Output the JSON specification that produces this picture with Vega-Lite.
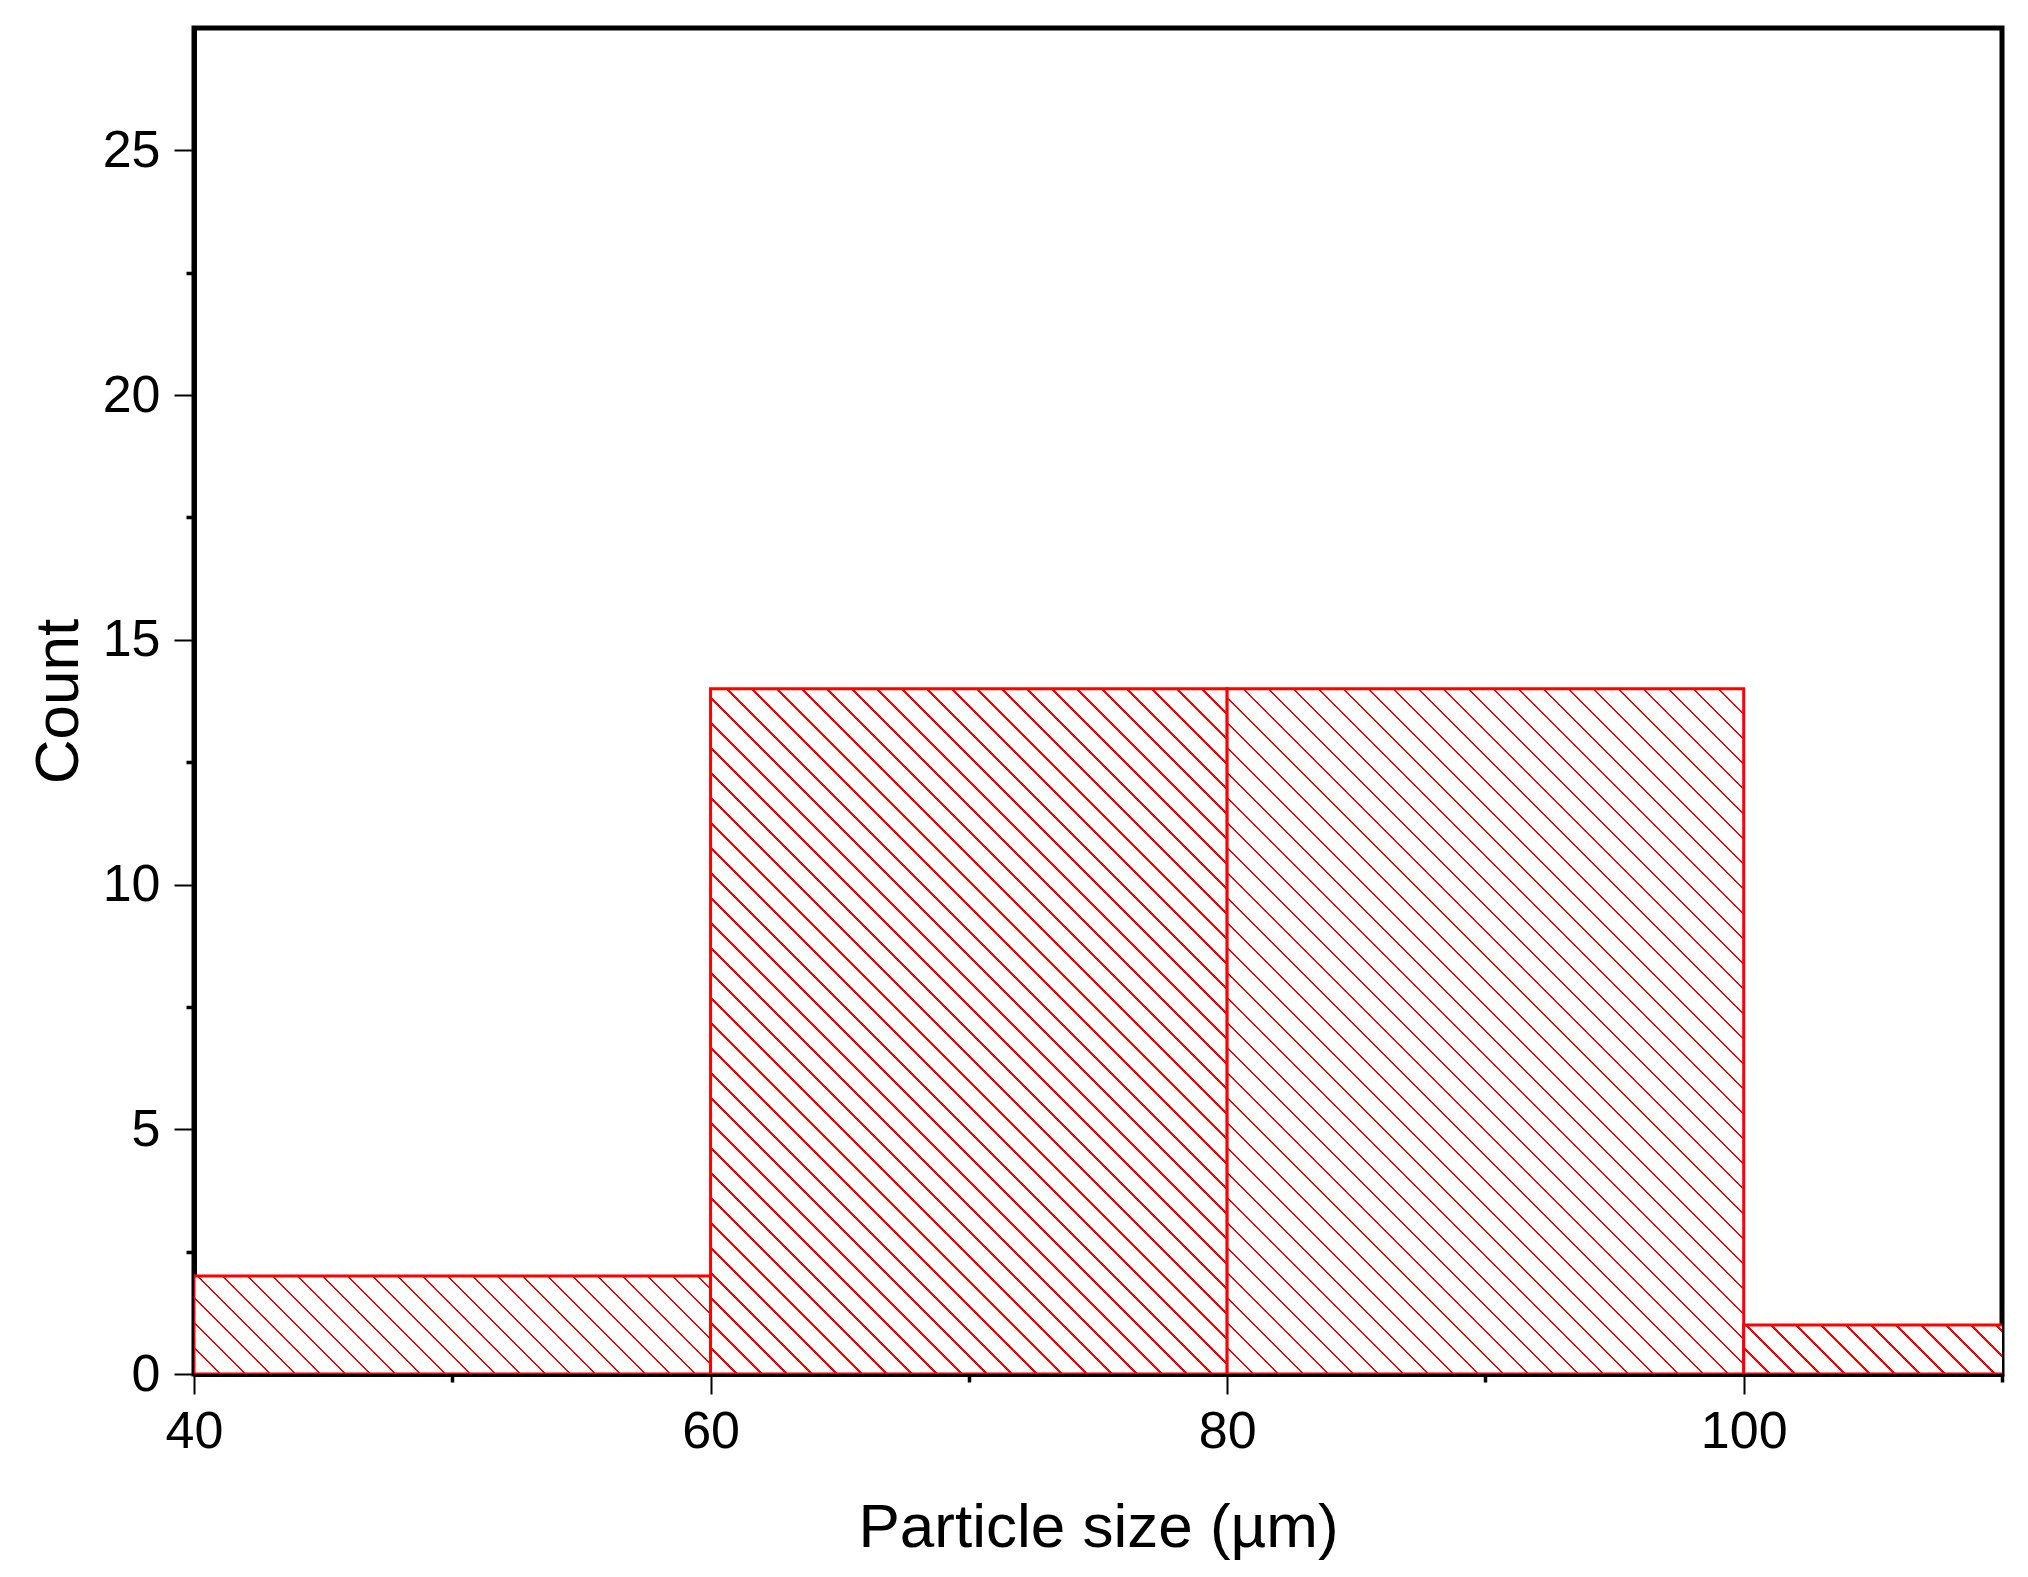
{
  "$schema": "https://vega.github.io/schema/vega-lite/v6.json",
  "width": 1808,
  "height": 1346,
  "autosize": {"type": "none"},
  "padding": {"left": 194, "top": 28, "right": 26, "bottom": 203},
  "background": "white",
  "config": {
    "view": {"stroke": "black", "strokeWidth": 5},
    "axis": {
      "labelFont": "Liberation Sans",
      "titleFont": "Liberation Sans",
      "labelColor": "black",
      "titleColor": "black",
      "titleFontWeight": "normal",
      "labelFontSize": 52,
      "titleFontSize": 62,
      "domainColor": "black",
      "domainWidth": 5,
      "tickColor": "black",
      "grid": false,
      "zindex": 1
    }
  },
  "data": {
    "values": [
      {"bin_start": 40, "bin_end": 60, "count": 2},
      {"bin_start": 60, "bin_end": 80, "count": 14},
      {"bin_start": 80, "bin_end": 100, "count": 14},
      {"bin_start": 100, "bin_end": 120, "count": 1}
    ]
  },
  "mark": {"type": "rect", "stroke": "red", "strokeWidth": 3, "clip": true},
  "encoding": {
    "x": {
      "field": "bin_start",
      "type": "quantitative",
      "scale": {"domain": [40, 110], "nice": false, "zero": false},
      "axis": {
        "title": "Particle size (µm)",
        "values": [40, 50, 60, 70, 80, 90, 100, 110],
        "labelExpr": "datum.value % 20 === 0 ? datum.label : ''",
        "tickSize": {"condition": {"test": "datum.value % 20 !== 0", "value": 8}, "value": 20},
        "tickWidth": {"condition": {"test": "datum.value % 20 !== 0", "value": 3.5}, "value": 2},
        "labelPadding": 12,
        "titlePadding": 40,
        "labelFlush": false
      }
    },
    "x2": {"field": "bin_end"},
    "y": {
      "field": "count",
      "type": "quantitative",
      "scale": {"domain": [0, 27.5], "nice": false},
      "axis": {
        "title": "Count",
        "values": [0, 2.5, 5, 7.5, 10, 12.5, 15, 17.5, 20, 22.5, 25],
        "labelExpr": "datum.value % 5 === 0 ? datum.label : ''",
        "tickSize": {"condition": {"test": "datum.value % 5 !== 0", "value": 8}, "value": 20},
        "tickWidth": {"condition": {"test": "datum.value % 5 !== 0", "value": 3.5}, "value": 2},
        "labelPadding": 14,
        "titlePadding": 12,
        "labelFlush": false
      }
    },
    "y2": {"datum": 0},
    "fill": {
      "condition": [
        {
          "test": "datum.count == 2",
          "value": {
            "gradient": "linear", "x1": 0, "y1": 1, "x2": 1.16797, "y2": 0.77867,
            "stops": [
              {"offset":0,"color":"red"},{"offset":0.004,"color":"red"},{"offset":0.004,"color":"white"},{"offset":0.04,"color":"white"},
              {"offset":0.04,"color":"red"},{"offset":0.044,"color":"red"},{"offset":0.044,"color":"white"},{"offset":0.08,"color":"white"},
              {"offset":0.08,"color":"red"},{"offset":0.084,"color":"red"},{"offset":0.084,"color":"white"},{"offset":0.12,"color":"white"},
              {"offset":0.12,"color":"red"},{"offset":0.124,"color":"red"},{"offset":0.124,"color":"white"},{"offset":0.16,"color":"white"},
              {"offset":0.16,"color":"red"},{"offset":0.164,"color":"red"},{"offset":0.164,"color":"white"},{"offset":0.2,"color":"white"},
              {"offset":0.2,"color":"red"},{"offset":0.204,"color":"red"},{"offset":0.204,"color":"white"},{"offset":0.24,"color":"white"},
              {"offset":0.24,"color":"red"},{"offset":0.244,"color":"red"},{"offset":0.244,"color":"white"},{"offset":0.28,"color":"white"},
              {"offset":0.28,"color":"red"},{"offset":0.284,"color":"red"},{"offset":0.284,"color":"white"},{"offset":0.32,"color":"white"},
              {"offset":0.32,"color":"red"},{"offset":0.324,"color":"red"},{"offset":0.324,"color":"white"},{"offset":0.36,"color":"white"},
              {"offset":0.36,"color":"red"},{"offset":0.364,"color":"red"},{"offset":0.364,"color":"white"},{"offset":0.4,"color":"white"},
              {"offset":0.4,"color":"red"},{"offset":0.404,"color":"red"},{"offset":0.404,"color":"white"},{"offset":0.44,"color":"white"},
              {"offset":0.44,"color":"red"},{"offset":0.444,"color":"red"},{"offset":0.444,"color":"white"},{"offset":0.48,"color":"white"},
              {"offset":0.48,"color":"red"},{"offset":0.484,"color":"red"},{"offset":0.484,"color":"white"},{"offset":0.52,"color":"white"},
              {"offset":0.52,"color":"red"},{"offset":0.524,"color":"red"},{"offset":0.524,"color":"white"},{"offset":0.56,"color":"white"},
              {"offset":0.56,"color":"red"},{"offset":0.564,"color":"red"},{"offset":0.564,"color":"white"},{"offset":0.6,"color":"white"},
              {"offset":0.6,"color":"red"},{"offset":0.604,"color":"red"},{"offset":0.604,"color":"white"},{"offset":0.64,"color":"white"},
              {"offset":0.64,"color":"red"},{"offset":0.644,"color":"red"},{"offset":0.644,"color":"white"},{"offset":0.68,"color":"white"},
              {"offset":0.68,"color":"red"},{"offset":0.684,"color":"red"},{"offset":0.684,"color":"white"},{"offset":0.72,"color":"white"},
              {"offset":0.72,"color":"red"},{"offset":0.724,"color":"red"},{"offset":0.724,"color":"white"},{"offset":0.76,"color":"white"},
              {"offset":0.76,"color":"red"},{"offset":0.764,"color":"red"},{"offset":0.764,"color":"white"},{"offset":0.8,"color":"white"},
              {"offset":0.8,"color":"red"},{"offset":0.804,"color":"red"},{"offset":0.804,"color":"white"},{"offset":0.84,"color":"white"},
              {"offset":0.84,"color":"red"},{"offset":0.844,"color":"red"},{"offset":0.844,"color":"white"},{"offset":0.88,"color":"white"},
              {"offset":0.88,"color":"red"},{"offset":0.884,"color":"red"},{"offset":0.884,"color":"white"},{"offset":0.92,"color":"white"},
              {"offset":0.92,"color":"red"},{"offset":0.924,"color":"red"},{"offset":0.924,"color":"white"},{"offset":0.96,"color":"white"},
              {"offset":0.96,"color":"red"},{"offset":0.964,"color":"red"},{"offset":0.964,"color":"white"},{"offset":1,"color":"white"}
            ]
          }
        },
        {
          "test": "datum.count == 1",
          "value": {
            "gradient": "linear", "x1": 0, "y1": 1, "x2": 1.19914, "y2": 0.88638,
            "stops": [
              {"offset":0,"color":"red"},{"offset":0.004,"color":"red"},{"offset":0.004,"color":"white"},{"offset":0.04,"color":"white"},
              {"offset":0.04,"color":"red"},{"offset":0.044,"color":"red"},{"offset":0.044,"color":"white"},{"offset":0.08,"color":"white"},
              {"offset":0.08,"color":"red"},{"offset":0.084,"color":"red"},{"offset":0.084,"color":"white"},{"offset":0.12,"color":"white"},
              {"offset":0.12,"color":"red"},{"offset":0.124,"color":"red"},{"offset":0.124,"color":"white"},{"offset":0.16,"color":"white"},
              {"offset":0.16,"color":"red"},{"offset":0.164,"color":"red"},{"offset":0.164,"color":"white"},{"offset":0.2,"color":"white"},
              {"offset":0.2,"color":"red"},{"offset":0.204,"color":"red"},{"offset":0.204,"color":"white"},{"offset":0.24,"color":"white"},
              {"offset":0.24,"color":"red"},{"offset":0.244,"color":"red"},{"offset":0.244,"color":"white"},{"offset":0.28,"color":"white"},
              {"offset":0.28,"color":"red"},{"offset":0.284,"color":"red"},{"offset":0.284,"color":"white"},{"offset":0.32,"color":"white"},
              {"offset":0.32,"color":"red"},{"offset":0.324,"color":"red"},{"offset":0.324,"color":"white"},{"offset":0.36,"color":"white"},
              {"offset":0.36,"color":"red"},{"offset":0.364,"color":"red"},{"offset":0.364,"color":"white"},{"offset":0.4,"color":"white"},
              {"offset":0.4,"color":"red"},{"offset":0.404,"color":"red"},{"offset":0.404,"color":"white"},{"offset":0.44,"color":"white"},
              {"offset":0.44,"color":"red"},{"offset":0.444,"color":"red"},{"offset":0.444,"color":"white"},{"offset":0.48,"color":"white"},
              {"offset":0.48,"color":"red"},{"offset":0.484,"color":"red"},{"offset":0.484,"color":"white"},{"offset":0.52,"color":"white"},
              {"offset":0.52,"color":"red"},{"offset":0.524,"color":"red"},{"offset":0.524,"color":"white"},{"offset":0.56,"color":"white"},
              {"offset":0.56,"color":"red"},{"offset":0.564,"color":"red"},{"offset":0.564,"color":"white"},{"offset":0.6,"color":"white"},
              {"offset":0.6,"color":"red"},{"offset":0.604,"color":"red"},{"offset":0.604,"color":"white"},{"offset":0.64,"color":"white"},
              {"offset":0.64,"color":"red"},{"offset":0.644,"color":"red"},{"offset":0.644,"color":"white"},{"offset":0.68,"color":"white"},
              {"offset":0.68,"color":"red"},{"offset":0.684,"color":"red"},{"offset":0.684,"color":"white"},{"offset":0.72,"color":"white"},
              {"offset":0.72,"color":"red"},{"offset":0.724,"color":"red"},{"offset":0.724,"color":"white"},{"offset":0.76,"color":"white"},
              {"offset":0.76,"color":"red"},{"offset":0.764,"color":"red"},{"offset":0.764,"color":"white"},{"offset":0.8,"color":"white"},
              {"offset":0.8,"color":"red"},{"offset":0.804,"color":"red"},{"offset":0.804,"color":"white"},{"offset":0.84,"color":"white"},
              {"offset":0.84,"color":"red"},{"offset":0.844,"color":"red"},{"offset":0.844,"color":"white"},{"offset":0.88,"color":"white"},
              {"offset":0.88,"color":"red"},{"offset":0.884,"color":"red"},{"offset":0.884,"color":"white"},{"offset":0.92,"color":"white"},
              {"offset":0.92,"color":"red"},{"offset":0.924,"color":"red"},{"offset":0.924,"color":"white"},{"offset":0.96,"color":"white"},
              {"offset":0.96,"color":"red"},{"offset":0.964,"color":"red"},{"offset":0.964,"color":"white"},{"offset":1,"color":"white"}
            ]
          }
        }
      ],
      "value": {
        "gradient": "linear", "x1": 0, "y1": 1, "x2": 0.87686, "y2": -0.16316,
        "stops": [
          {"offset":0,"color":"red"},{"offset":0.002,"color":"red"},{"offset":0.002,"color":"white"},{"offset":0.02,"color":"white"},
          {"offset":0.02,"color":"red"},{"offset":0.022,"color":"red"},{"offset":0.022,"color":"white"},{"offset":0.04,"color":"white"},
          {"offset":0.04,"color":"red"},{"offset":0.042,"color":"red"},{"offset":0.042,"color":"white"},{"offset":0.06,"color":"white"},
          {"offset":0.06,"color":"red"},{"offset":0.062,"color":"red"},{"offset":0.062,"color":"white"},{"offset":0.08,"color":"white"},
          {"offset":0.08,"color":"red"},{"offset":0.082,"color":"red"},{"offset":0.082,"color":"white"},{"offset":0.1,"color":"white"},
          {"offset":0.1,"color":"red"},{"offset":0.102,"color":"red"},{"offset":0.102,"color":"white"},{"offset":0.12,"color":"white"},
          {"offset":0.12,"color":"red"},{"offset":0.122,"color":"red"},{"offset":0.122,"color":"white"},{"offset":0.14,"color":"white"},
          {"offset":0.14,"color":"red"},{"offset":0.142,"color":"red"},{"offset":0.142,"color":"white"},{"offset":0.16,"color":"white"},
          {"offset":0.16,"color":"red"},{"offset":0.162,"color":"red"},{"offset":0.162,"color":"white"},{"offset":0.18,"color":"white"},
          {"offset":0.18,"color":"red"},{"offset":0.182,"color":"red"},{"offset":0.182,"color":"white"},{"offset":0.2,"color":"white"},
          {"offset":0.2,"color":"red"},{"offset":0.202,"color":"red"},{"offset":0.202,"color":"white"},{"offset":0.22,"color":"white"},
          {"offset":0.22,"color":"red"},{"offset":0.222,"color":"red"},{"offset":0.222,"color":"white"},{"offset":0.24,"color":"white"},
          {"offset":0.24,"color":"red"},{"offset":0.242,"color":"red"},{"offset":0.242,"color":"white"},{"offset":0.26,"color":"white"},
          {"offset":0.26,"color":"red"},{"offset":0.262,"color":"red"},{"offset":0.262,"color":"white"},{"offset":0.28,"color":"white"},
          {"offset":0.28,"color":"red"},{"offset":0.282,"color":"red"},{"offset":0.282,"color":"white"},{"offset":0.3,"color":"white"},
          {"offset":0.3,"color":"red"},{"offset":0.302,"color":"red"},{"offset":0.302,"color":"white"},{"offset":0.32,"color":"white"},
          {"offset":0.32,"color":"red"},{"offset":0.322,"color":"red"},{"offset":0.322,"color":"white"},{"offset":0.34,"color":"white"},
          {"offset":0.34,"color":"red"},{"offset":0.342,"color":"red"},{"offset":0.342,"color":"white"},{"offset":0.36,"color":"white"},
          {"offset":0.36,"color":"red"},{"offset":0.362,"color":"red"},{"offset":0.362,"color":"white"},{"offset":0.38,"color":"white"},
          {"offset":0.38,"color":"red"},{"offset":0.382,"color":"red"},{"offset":0.382,"color":"white"},{"offset":0.4,"color":"white"},
          {"offset":0.4,"color":"red"},{"offset":0.402,"color":"red"},{"offset":0.402,"color":"white"},{"offset":0.42,"color":"white"},
          {"offset":0.42,"color":"red"},{"offset":0.422,"color":"red"},{"offset":0.422,"color":"white"},{"offset":0.44,"color":"white"},
          {"offset":0.44,"color":"red"},{"offset":0.442,"color":"red"},{"offset":0.442,"color":"white"},{"offset":0.46,"color":"white"},
          {"offset":0.46,"color":"red"},{"offset":0.462,"color":"red"},{"offset":0.462,"color":"white"},{"offset":0.48,"color":"white"},
          {"offset":0.48,"color":"red"},{"offset":0.482,"color":"red"},{"offset":0.482,"color":"white"},{"offset":0.5,"color":"white"},
          {"offset":0.5,"color":"red"},{"offset":0.502,"color":"red"},{"offset":0.502,"color":"white"},{"offset":0.52,"color":"white"},
          {"offset":0.52,"color":"red"},{"offset":0.522,"color":"red"},{"offset":0.522,"color":"white"},{"offset":0.54,"color":"white"},
          {"offset":0.54,"color":"red"},{"offset":0.542,"color":"red"},{"offset":0.542,"color":"white"},{"offset":0.56,"color":"white"},
          {"offset":0.56,"color":"red"},{"offset":0.562,"color":"red"},{"offset":0.562,"color":"white"},{"offset":0.58,"color":"white"},
          {"offset":0.58,"color":"red"},{"offset":0.582,"color":"red"},{"offset":0.582,"color":"white"},{"offset":0.6,"color":"white"},
          {"offset":0.6,"color":"red"},{"offset":0.602,"color":"red"},{"offset":0.602,"color":"white"},{"offset":0.62,"color":"white"},
          {"offset":0.62,"color":"red"},{"offset":0.622,"color":"red"},{"offset":0.622,"color":"white"},{"offset":0.64,"color":"white"},
          {"offset":0.64,"color":"red"},{"offset":0.642,"color":"red"},{"offset":0.642,"color":"white"},{"offset":0.66,"color":"white"},
          {"offset":0.66,"color":"red"},{"offset":0.662,"color":"red"},{"offset":0.662,"color":"white"},{"offset":0.68,"color":"white"},
          {"offset":0.68,"color":"red"},{"offset":0.682,"color":"red"},{"offset":0.682,"color":"white"},{"offset":0.7,"color":"white"},
          {"offset":0.7,"color":"red"},{"offset":0.702,"color":"red"},{"offset":0.702,"color":"white"},{"offset":0.72,"color":"white"},
          {"offset":0.72,"color":"red"},{"offset":0.722,"color":"red"},{"offset":0.722,"color":"white"},{"offset":0.74,"color":"white"},
          {"offset":0.74,"color":"red"},{"offset":0.742,"color":"red"},{"offset":0.742,"color":"white"},{"offset":0.76,"color":"white"},
          {"offset":0.76,"color":"red"},{"offset":0.762,"color":"red"},{"offset":0.762,"color":"white"},{"offset":0.78,"color":"white"},
          {"offset":0.78,"color":"red"},{"offset":0.782,"color":"red"},{"offset":0.782,"color":"white"},{"offset":0.8,"color":"white"},
          {"offset":0.8,"color":"red"},{"offset":0.802,"color":"red"},{"offset":0.802,"color":"white"},{"offset":0.82,"color":"white"},
          {"offset":0.82,"color":"red"},{"offset":0.822,"color":"red"},{"offset":0.822,"color":"white"},{"offset":0.84,"color":"white"},
          {"offset":0.84,"color":"red"},{"offset":0.842,"color":"red"},{"offset":0.842,"color":"white"},{"offset":0.86,"color":"white"},
          {"offset":0.86,"color":"red"},{"offset":0.862,"color":"red"},{"offset":0.862,"color":"white"},{"offset":0.88,"color":"white"},
          {"offset":0.88,"color":"red"},{"offset":0.882,"color":"red"},{"offset":0.882,"color":"white"},{"offset":0.9,"color":"white"},
          {"offset":0.9,"color":"red"},{"offset":0.902,"color":"red"},{"offset":0.902,"color":"white"},{"offset":0.92,"color":"white"},
          {"offset":0.92,"color":"red"},{"offset":0.922,"color":"red"},{"offset":0.922,"color":"white"},{"offset":0.94,"color":"white"},
          {"offset":0.94,"color":"red"},{"offset":0.942,"color":"red"},{"offset":0.942,"color":"white"},{"offset":0.96,"color":"white"},
          {"offset":0.96,"color":"red"},{"offset":0.962,"color":"red"},{"offset":0.962,"color":"white"},{"offset":0.98,"color":"white"},
          {"offset":0.98,"color":"red"},{"offset":0.982,"color":"red"},{"offset":0.982,"color":"white"},{"offset":1,"color":"white"}
        ]
      }
    }
  }
}
